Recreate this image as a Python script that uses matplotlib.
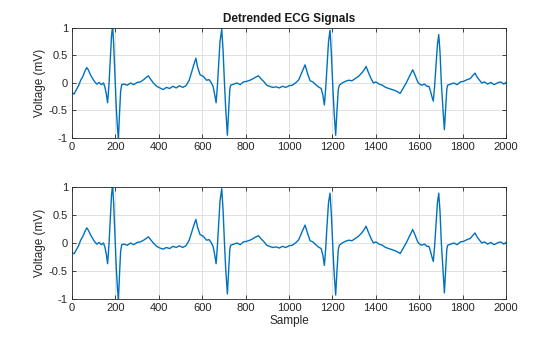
import matplotlib
matplotlib.use("Agg")
import matplotlib.pyplot as plt
from matplotlib.ticker import FuncFormatter

plt.rcParams["font.family"] = ["Liberation Sans", "DejaVu Sans"]

# sample positions and voltages (top: detrended signal 1)
top_samples = [
    0, 10, 20, 30, 40, 50, 60, 68, 75, 85, 95, 105, 115, 125, 135, 145, 152, 158, 164, 170,
    176, 182, 187, 192, 198, 204, 210, 214, 219, 224, 229, 240, 255, 270, 285, 300, 315, 330,
    345, 352, 360, 375, 390, 405, 420, 435, 450, 465, 480, 495, 510, 525, 540, 555, 565, 571,
    578, 590, 605, 620, 632, 642, 650, 657, 664, 670, 676, 682, 690, 696, 702, 708, 716, 722,
    727, 731, 745, 760, 775, 790, 805, 820, 835, 848, 859, 870, 885, 897, 910, 925, 940, 955,
    970, 985, 1000, 1015, 1030, 1045, 1060, 1074, 1085, 1097, 1110, 1120, 1135, 1148, 1156,
    1163, 1169, 1175, 1182, 1189, 1195, 1201, 1208, 1215, 1221, 1227, 1232, 1245, 1260, 1275,
    1290, 1305, 1320, 1335, 1348, 1355, 1365, 1378, 1389, 1400, 1415, 1430, 1445, 1460, 1475,
    1490, 1505, 1512, 1525, 1540, 1555, 1570, 1580, 1590, 1596, 1610, 1625, 1635, 1645, 1652,
    1658, 1665, 1671, 1677, 1684, 1690, 1696, 1702, 1709, 1716, 1722, 1727, 1731, 1745, 1760,
    1775, 1790, 1805, 1820, 1835, 1848, 1857, 1868, 1880, 1888, 1900, 1915, 1930, 1945, 1960,
    1975, 1990, 2000,
]
top_values = [
    -0.18, -0.20, -0.12, -0.05, 0.05, 0.12, 0.22, 0.28, 0.24, 0.15, 0.08, 0.02, -0.02, 0.01,
    -0.03, 0.00, -0.08, -0.20, -0.36, -0.05, 0.40, 0.85, 1.05, 0.70, 0.10, -0.45, -0.85, -1.00,
    -0.55, -0.15, -0.03, -0.02, -0.04, 0.00, -0.03, 0.01, 0.02, 0.06, 0.11, 0.13, 0.08, 0.00,
    -0.06, -0.09, -0.12, -0.08, -0.10, -0.06, -0.09, -0.05, -0.08, -0.05, 0.05, 0.25, 0.38,
    0.45, 0.30, 0.15, 0.12, 0.05, 0.06, 0.00, -0.06, -0.20, -0.36, -0.05, 0.35, 0.75, 0.98,
    0.60, 0.05, -0.45, -0.95, -0.50, -0.12, -0.04, -0.02, 0.00, -0.03, 0.02, 0.03, 0.05, 0.08,
    0.11, 0.13, 0.08, 0.02, -0.04, -0.06, -0.08, -0.07, -0.09, -0.06, -0.08, -0.05, -0.04,
    0.00, 0.06, 0.20, 0.33, 0.18, 0.04, 0.02, -0.02, -0.07, -0.10, -0.22, -0.40, -0.10, 0.30,
    0.75, 0.96, 0.55, 0.00, -0.55, -0.95, -0.50, -0.12, -0.04, 0.00, 0.03, 0.05, 0.04, 0.08,
    0.12, 0.18, 0.25, 0.30, 0.20, 0.08, 0.00, 0.02, -0.02, -0.04, -0.08, -0.10, -0.12, -0.14,
    -0.17, -0.19, -0.10, 0.00, 0.12, 0.24, 0.15, 0.05, 0.00, -0.04, -0.02, -0.06, -0.06, -0.15,
    -0.24, -0.33, -0.05, 0.30, 0.70, 0.88, 0.55, 0.00, -0.45, -0.85, -0.45, -0.12, -0.04,
    -0.02, 0.00, -0.03, 0.02, 0.03, 0.06, 0.08, 0.14, 0.18, 0.10, 0.04, 0.00, 0.02, -0.02,
    0.01, -0.03, 0.00, 0.02, -0.02, 0.01,
]

# bottom: detrended signal 2 (same samples)
bottom_samples = top_samples
bottom_values = [
    -0.18, -0.19, -0.12, -0.05, 0.05, 0.12, 0.21, 0.27, 0.23, 0.15, 0.08, 0.02, -0.02, 0.01,
    -0.03, 0.00, -0.08, -0.20, -0.37, -0.05, 0.40, 0.85, 1.05, 0.70, 0.10, -0.45, -0.85, -1.00,
    -0.55, -0.15, -0.03, -0.02, -0.04, 0.00, -0.03, 0.01, 0.02, 0.05, 0.09, 0.11, 0.07, 0.00,
    -0.06, -0.09, -0.11, -0.08, -0.10, -0.06, -0.08, -0.05, -0.08, -0.05, 0.05, 0.24, 0.36,
    0.42, 0.29, 0.15, 0.12, 0.05, 0.06, 0.00, -0.06, -0.20, -0.37, -0.05, 0.35, 0.75, 0.97,
    0.60, 0.05, -0.45, -0.91, -0.48, -0.12, -0.04, -0.02, 0.00, -0.03, 0.02, 0.03, 0.05, 0.08,
    0.11, 0.13, 0.08, 0.02, -0.04, -0.06, -0.08, -0.07, -0.09, -0.06, -0.08, -0.05, -0.04,
    0.00, 0.06, 0.20, 0.32, 0.18, 0.04, 0.02, -0.02, -0.07, -0.10, -0.22, -0.40, -0.10, 0.30,
    0.72, 0.89, 0.52, 0.00, -0.55, -0.93, -0.50, -0.12, -0.04, 0.00, 0.03, 0.05, 0.04, 0.08,
    0.12, 0.18, 0.25, 0.30, 0.20, 0.08, 0.00, 0.02, -0.02, -0.04, -0.08, -0.10, -0.12, -0.14,
    -0.17, -0.19, -0.10, 0.00, 0.12, 0.24, 0.15, 0.05, 0.00, -0.04, -0.02, -0.06, -0.06, -0.15,
    -0.24, -0.33, -0.05, 0.30, 0.72, 0.89, 0.55, 0.00, -0.45, -0.89, -0.45, -0.12, -0.04,
    -0.02, 0.00, -0.03, 0.02, 0.03, 0.06, 0.08, 0.14, 0.18, 0.10, 0.04, 0.00, 0.02, -0.02,
    0.01, -0.03, 0.00, 0.02, -0.02, 0.01,
]

x_ticks = list(range(0, 2001, 200))
y_ticks = [-1, -0.5, 0, 0.5, 1]

LINE_COLOR = "#0072BD"


def fmt_y(v, _pos):
    return f"{v:g}"


def style_axes(ax):
    ax.set_xlim(0, 2000)
    ax.set_ylim(-1, 1)
    ax.set_xticks(x_ticks)
    ax.set_yticks(y_ticks)
    ax.yaxis.set_major_formatter(FuncFormatter(fmt_y))
    ax.grid(True, color="#dcdcdc", linewidth=0.6)
    ax.set_axisbelow(True)
    ax.tick_params(direction="in", top=True, right=True, length=3, width=0.6,
                   labelsize=8, pad=3, colors="#262626")
    for s in ax.spines.values():
        s.set_linewidth(0.6)
        s.set_color("#262626")
    ax.set_ylabel("Voltage (mV)", fontsize=8.5, color="#262626", labelpad=2)


fig = plt.figure(figsize=(5.6, 3.37), dpi=100)
ax1 = fig.add_axes([0.1286, 0.5905, 0.775, 0.3265])
ax2 = fig.add_axes([0.1286, 0.1128, 0.775, 0.3323])

ax1.plot(top_samples, top_values, color=LINE_COLOR, linewidth=1.0)
ax2.plot(bottom_samples, bottom_values, color=LINE_COLOR, linewidth=1.0)

style_axes(ax1)
style_axes(ax2)
ax1.set_title("Detrended ECG Signals", fontsize=8.5, fontweight="bold", pad=4, color="#1a1a1a")
ax2.set_xlabel("Sample", fontsize=8.5, color="#262626", labelpad=1)

fig.savefig("out.png", dpi=100)
